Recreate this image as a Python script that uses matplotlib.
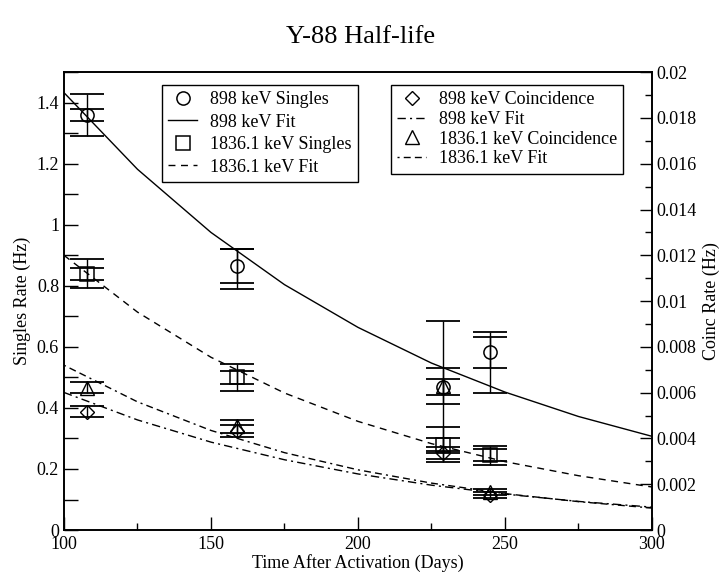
import matplotlib
matplotlib.use("Agg")
import matplotlib.pyplot as plt
from matplotlib.ticker import MultipleLocator, FormatStrFormatter

plt.rcParams['font.family'] = ['Liberation Serif', 'DejaVu Serif']

# -----------------------------
# Datos
# -----------------------------
dias = [108, 159, 229, 245]

# Singles (Hz) - eje izquierdo
s898 = [1.36, 0.865, 0.468, 0.582]
s898_err_bajo = [0.07, 0.075, 0.216, 0.134]
s898_err_alto = [0.07, 0.057, 0.216, 0.066]
s898_err_stat = [0.02, 0.057, 0.026, 0.05]

s1836 = [0.84, 0.50, 0.28, 0.245]
s1836_err = [0.047, 0.043, 0.058, 0.031]
s1836_err_stat = [0.02, 0.02, 0.02, 0.02]

# Coincidencias (Hz) - eje derecho
c898 = [0.00517, 0.00433, 0.00336, 0.00153]
c898_err = [0.00024, 0.00027, 0.00027, 0.00013]

c1836 = [0.00621, 0.00453, 0.00628, 0.00167]
c1836_err = [0.00024, 0.00027, 0.00079, 0.00013]

# Curvas de ajuste leídas cada 25 días
dias_fit = [100, 125, 150, 175, 200, 225, 250, 275, 300]
fit_s898 = [1.433, 1.182, 0.975, 0.804, 0.664, 0.547, 0.452, 0.372, 0.307]
fit_s1836 = [0.900, 0.714, 0.566, 0.449, 0.356, 0.283, 0.224, 0.178, 0.141]
fit_c898 = [0.00601, 0.00481, 0.00384, 0.00307, 0.00245, 0.00196, 0.00157, 0.00125, 0.00100]
fit_c1836 = [0.00720, 0.00560, 0.00435, 0.00338, 0.00263, 0.00205, 0.00159, 0.00124, 0.00096]

# -----------------------------
# Figura
# -----------------------------
fig = plt.figure(figsize=(7.22, 5.73), dpi=100)
ax1 = fig.add_axes([0.0886, 0.075, 0.8144, 0.799])
ax2 = ax1.twinx()

eb = dict(fmt='none', ecolor='black', elinewidth=1.0, capsize=12, capthick=1.3)

# singles
ax1.plot(dias_fit, fit_s898, color='black', lw=1.0, ls='-')
ax1.plot(dias_fit, fit_s1836, color='black', lw=1.0, ls=(0, (5, 4)))
ax1.errorbar(dias, s898, yerr=[s898_err_bajo, s898_err_alto], **eb)
ax1.errorbar(dias, s898, yerr=s898_err_stat, **eb)
ax1.errorbar(dias, s1836, yerr=s1836_err, **eb)
ax1.errorbar(dias, s1836, yerr=s1836_err_stat, **eb)
ax1.plot(dias, s898, ls='none', marker='o', ms=9.5, mfc='none', mec='black', mew=1.1)
ax1.plot(dias, s1836, ls='none', marker='s', ms=9.5, mfc='none', mec='black', mew=1.1)

# coincidencias
ax2.plot(dias_fit, fit_c898, color='black', lw=1.0, ls=(0, (6, 3, 1.5, 3)))
ax2.plot(dias_fit, fit_c1836, color='black', lw=1.0, ls=(0, (1.5, 3, 5, 3, 5, 3)))
ax2.errorbar(dias, c898, yerr=c898_err, **eb)
ax2.errorbar(dias, c1836, yerr=c1836_err, **eb)
ax2.plot(dias, c898, ls='none', marker='D', ms=7.5, mfc='none', mec='black', mew=1.0)
ax2.plot(dias, c1836, ls='none', marker='^', ms=9.5, mfc='none', mec='black', mew=1.0)

# ejes
ax1.set_xlim(100, 300)
ax1.set_ylim(0, 1.5)
ax2.set_ylim(0, 0.02)

ax1.xaxis.set_major_locator(MultipleLocator(50))
ax1.xaxis.set_minor_locator(MultipleLocator(25))
ax1.yaxis.set_major_locator(MultipleLocator(0.2))
ax1.yaxis.set_minor_locator(MultipleLocator(0.1))
ax1.yaxis.set_major_formatter(FormatStrFormatter('%g'))
ax2.yaxis.set_major_locator(MultipleLocator(0.002))
ax2.yaxis.set_minor_locator(MultipleLocator(0.001))
ax2.yaxis.set_major_formatter(FormatStrFormatter('%g'))

ax1.tick_params(axis='x', which='major', direction='in', length=9.5, width=1, labelsize=13, top=False, pad=4.5)
ax1.tick_params(axis='x', which='minor', direction='in', length=5, width=1, top=False)
ax1.tick_params(axis='y', which='both', direction='in', length=10, width=1, labelsize=13, right=False)
ax2.tick_params(axis='y', which='major', direction='in', length=8.5, width=1, labelsize=13)
ax2.tick_params(axis='y', which='minor', direction='in', length=5, width=1)

for a in (ax1, ax2):
    for s in a.spines.values():
        s.set_linewidth(1.2)

ax1.set_xlabel('Time After Activation (Days)', fontsize=13, labelpad=0.5)
ax1.set_ylabel('Singles Rate (Hz)', fontsize=13, labelpad=4)
ax2.set_ylabel('Coinc Rate (Hz)', fontsize=13, labelpad=4)

fig.suptitle('Y-88 Half-life', fontsize=19, y=0.955)

# leyendas
h = ax1.get_lines()
h2 = ax2.get_lines()
leg_kw = dict(fontsize=13, frameon=True, fancybox=False, framealpha=1, edgecolor='black',
              handlelength=1.6, handletextpad=0.7, borderpad=0.35,
              borderaxespad=0, loc='upper left')
leg1 = fig.legend([h[-2], h[0], h[-1], h[1]],
                  ['898 keV Singles', '898 keV Fit', '1836.1 keV Singles', '1836.1 keV Fit'],
                  bbox_to_anchor=(0.2244, 0.8517), labelspacing=0.3, **leg_kw)
leg2 = fig.legend([h2[-2], h2[0], h2[-1], h2[1]],
                  ['898 keV Coincidence', '898 keV Fit', '1836.1 keV Coincidence', '1836.1 keV Fit'],
                  bbox_to_anchor=(0.5416, 0.8517), labelspacing=0.15, **leg_kw)
for lg in (leg1, leg2):
    lg.get_frame().set_linewidth(1.0)

fig.savefig('out.png', dpi=100)
